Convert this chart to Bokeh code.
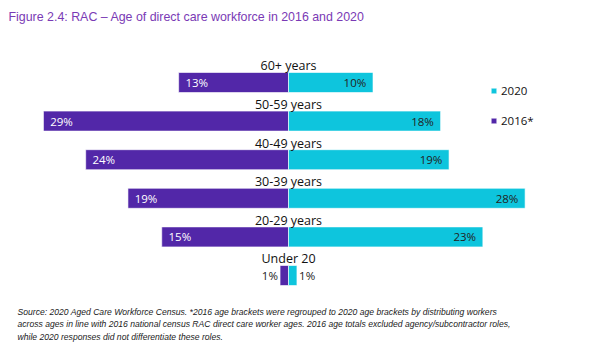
from bokeh.plotting import figure
from bokeh.models import Range1d, ColumnDataSource, Label, Legend, LegendItem
from bokeh.core.properties import value
from bokeh.embed import file_html
from bokeh.resources import INLINE

categories = ["60+ years", "50-59 years", "40-49 years", "30-39 years", "20-29 years", "Under 20"]
v2016 = [13, 29, 24, 19, 15, 1]
v2020 = [10, 18, 19, 28, 23, 1]

title_text = "Figure 2.4: RAC \u2013 Age of direct care workforce in 2016 and 2020"
notes = [
    "Source: 2020 Aged Care Workforce Census. *2016 age brackets were regrouped to 2020 age brackets by distributing workers",
    "across ages in line with 2016 national census RAC direct care worker ages. 2016 age totals excluded agency/subcontractor roles,",
    "while 2020 responses did not differentiate these roles.",
]

C2016 = "#5227A8"
C2020 = "#0EC5DD"

W, H = 600, 350
PX_PER_PCT = 8.45
CENTER_PX = 288
ROW0_PX = 82
ROW_STEP = 38.6

p = figure(width=W, height=H, output_backend="svg", toolbar_location=None,
           x_axis_location=None, y_axis_location=None, min_border=0,
           x_range=Range1d(-CENTER_PX / PX_PER_PCT, (W - CENTER_PX) / PX_PER_PCT),
           y_range=Range1d((H - ROW0_PX) / ROW_STEP, -ROW0_PX / ROW_STEP))
p.outline_line_color = None
p.grid.visible = False
p.background_fill_color = "white"

idx = list(range(len(categories)))
src = ColumnDataSource(dict(
    y=idx, cat=categories,
    l16=[-v for v in v2016], v16=v2016, v20=v2020,
    t16=[f"{v}%" for v in v2016], t20=[f"{v}%" for v in v2020],
    lab_y=[i - 0.43 for i in idx],
    x16=[(-v + 0.8) if v >= 3 else (-v - 0.25) for v in v2016],
    a16=["left" if v >= 3 else "right" for v in v2016],
    c16=["white" if v >= 3 else "#222222" for v in v2016],
    x20=[(v - 0.8) if v >= 3 else (v + 0.25) for v in v2020],
    a20=["right" if v >= 3 else "left" for v in v2020],
))

bh = 20 / ROW_STEP
r16 = p.hbar(y="y", left="l16", right=0, height=bh, source=src,
             fill_color=C2016, line_color="white", line_alpha=0.6, line_width=1)
r20 = p.hbar(y="y", left=0, right="v20", height=bh, source=src,
             fill_color=C2020, line_color="white", line_alpha=0.6, line_width=1)

p.text(x=0, y="lab_y", text="cat", source=src, text_align="center",
       text_baseline="middle", text_font=value("Open Sans"),
       text_font_size="12.5px", text_color="#111111")
p.text(x="x16", y="y", text="t16", source=src, text_align="a16",
       text_baseline="middle", text_font=value("Open Sans"),
       text_font_size="11.5px", text_color="c16")
p.text(x="x20", y="y", text="t20", source=src, text_align="a20",
       text_baseline="middle", text_font=value("Open Sans"),
       text_font_size="11.5px", text_color="#222222")

legend = Legend(items=[LegendItem(label="2020", renderers=[r20]),
                       LegendItem(label="2016*", renderers=[r16])],
                location=(490, 222), orientation="vertical",
                glyph_width=7, glyph_height=7, label_height=7, spacing=15,
                label_standoff=4, padding=0, margin=0,
                border_line_color=None, background_fill_alpha=0,
                label_text_font="Open Sans", label_text_font_size="11.5px",
                label_text_color="#111111")
p.add_layout(legend)

p.add_layout(Label(x=8, y=H - 16, x_units="screen", y_units="screen",
                   text=title_text, text_font="Liberation Sans",
                   text_font_size="12.4px", text_color="#7A3AB5",
                   text_baseline="middle"))

for k, line in enumerate(notes):
    p.add_layout(Label(x=17, y=H - 311 - 12.5 * k, x_units="screen", y_units="screen",
                       text=line, text_font="Liberation Sans",
                       text_font_style="italic", text_font_size="8.6px",
                       text_color="#222222", text_baseline="middle"))

open("out.html", "w").write(file_html(p, INLINE))
